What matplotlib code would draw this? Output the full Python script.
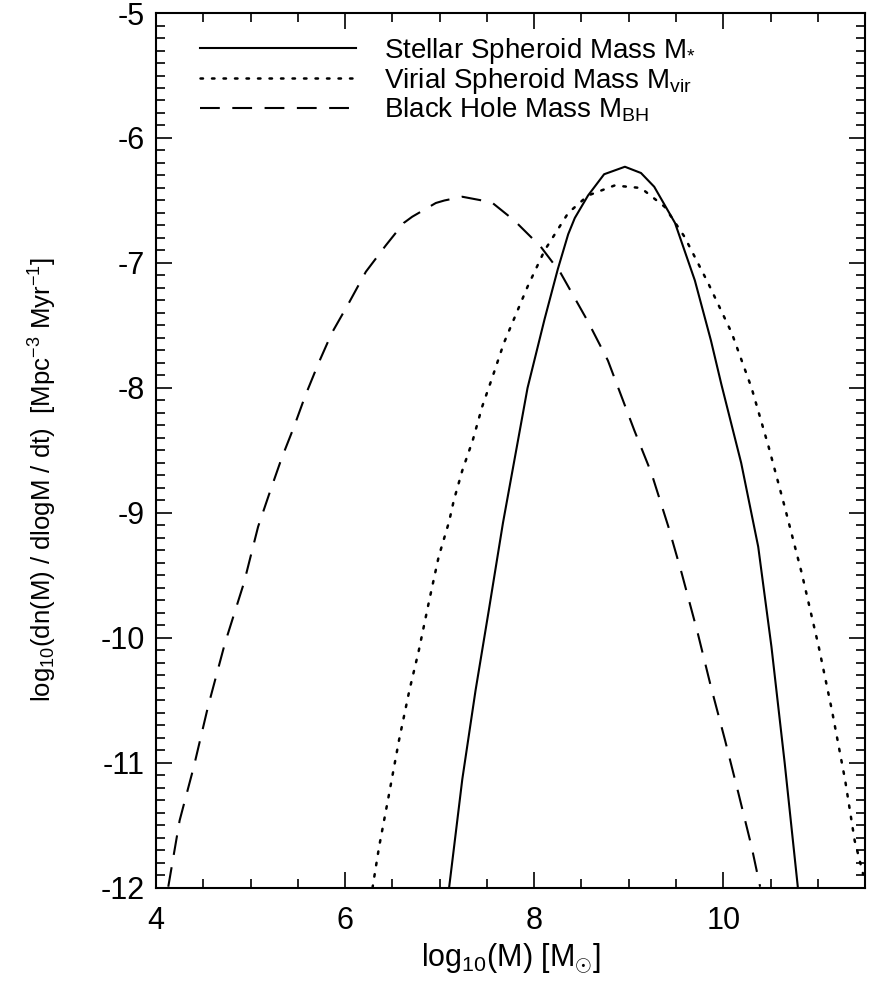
import matplotlib
matplotlib.use("Agg")
import matplotlib.pyplot as plt
from matplotlib.ticker import MultipleLocator

plt.rcParams['font.family'] = ['Liberation Sans', 'DejaVu Sans']
plt.rcParams['mathtext.fontset'] = 'custom'
plt.rcParams['mathtext.rm'] = 'Liberation Sans'
plt.rcParams['mathtext.it'] = 'Liberation Sans'
plt.rcParams['mathtext.bf'] = 'Liberation Sans:bold'
plt.rcParams['axes.unicode_minus'] = False

# ---- data ----
stellar_x = [7.10, 7.24, 7.38, 7.52, 7.67, 7.93, 8.11, 8.25, 8.36, 8.43, 8.57, 8.74, 8.96,
             9.13, 9.27, 9.49, 9.70, 9.87, 9.98, 10.19, 10.37, 10.51, 10.65, 10.79]
stellar_y = [-12.0, -11.13, -10.42, -9.78, -9.08, -8.00, -7.45, -7.05, -6.77, -6.64, -6.46, -6.29, -6.23,
             -6.28, -6.39, -6.68, -7.14, -7.62, -7.97, -8.60, -9.27, -10.07, -11.00, -12.0]

virial_x = [6.29, 6.36, 6.46, 6.57, 6.68, 6.78, 6.89, 6.99, 7.10, 7.15, 7.24, 7.35,
            7.45, 7.56, 7.68, 7.93, 8.11, 8.36, 8.57, 8.85, 9.13, 9.38, 9.59, 9.84,
            10.09, 10.30, 10.48, 10.65, 10.83, 11.01, 11.15, 11.29, 11.39, 11.48]
virial_y = [-12.0, -11.67, -11.27, -10.82, -10.42, -10.10, -9.70, -9.35, -9.07, -8.90, -8.66, -8.42,
            -8.15, -7.91, -7.64, -7.19, -6.90, -6.60, -6.46, -6.38, -6.40, -6.55, -6.79, -7.16,
            -7.56, -8.00, -8.47, -8.95, -9.48, -10.07, -10.58, -11.14, -11.62, -11.89]

bh_x = [4.13, 4.25, 4.40, 4.55, 4.73, 4.93, 5.08, 5.21, 5.33, 5.46, 5.58, 5.72, 5.86,
        6.04, 6.22, 6.43, 6.62, 6.71, 6.96, 7.05, 7.24, 7.45, 7.56, 7.79, 8.07, 8.28,
        8.57, 8.78, 8.89, 9.06, 9.24, 9.42, 9.56, 9.73, 9.87, 10.02, 10.16, 10.30, 10.39]
bh_y = [-11.99, -11.46, -11.03, -10.55, -10.04, -9.56, -9.11, -8.82, -8.56, -8.31, -8.06, -7.80, -7.56,
        -7.32, -7.07, -6.86, -6.68, -6.63, -6.52, -6.50, -6.47, -6.50, -6.52, -6.66, -6.87, -7.08,
        -7.47, -7.78, -8.00, -8.34, -8.68, -9.11, -9.48, -9.96, -10.39, -10.82, -11.24, -11.67, -11.99]

labels = [r'Stellar Spheroid Mass M$_{*}$',
          r'Virial Spheroid Mass M$_{\rm vir}$',
          r'Black Hole Mass M$_{\rm BH}$']

x_ticks = [4, 6, 8, 10]
y_ticks = [-12, -11, -10, -9, -8, -7, -6, -5]

fig = plt.figure(figsize=(8.7, 9.85), dpi=100)
ax = fig.add_axes([0.1793, 0.0985, 0.815, 0.8883])

lw = 1.5
ax.plot(stellar_x, stellar_y, color='black', lw=lw, ls='-', label=labels[0])
ax.plot(virial_x, virial_y, color='black', lw=1.8, ls=(0, (1, 3.6)),
        dash_capstyle='round', label=labels[1])
ax.plot(bh_x, bh_y, color='black', lw=lw, ls=(0, (9.5, 6)), label=labels[2])

ax.set_xlim(4, 11.5)
ax.set_ylim(-12, -5)
ax.set_xticks(x_ticks)
ax.set_yticks(y_ticks)
ax.set_xticklabels([str(v) for v in x_ticks])
ax.set_yticklabels([str(v) for v in y_ticks])
ax.xaxis.set_minor_locator(MultipleLocator(0.5))
ax.yaxis.set_minor_locator(MultipleLocator(0.1))

ax.tick_params(which='both', direction='in', top=True, right=True, width=1.2, color='black')
ax.tick_params(which='major', length=11.5)
ax.tick_params(which='minor', length=6.5)
ax.tick_params(axis='x', which='major', labelsize=22, pad=13)
ax.tick_params(axis='y', which='major', labelsize=22, pad=8)
for s in ax.spines.values():
    s.set_linewidth(1.5)

ax.set_xlabel(r'log$_{10}$(M) [M$_{\odot}$]', fontsize=22, labelpad=4)
ax.set_ylabel(r'log$_{10}$(dn(M) / dlogM / dt)  [Mpc$^{-3}$ Myr$^{-1}$]', fontsize=18.5)
ax.yaxis.set_label_coords(-0.137, 0.467)

leg = ax.legend(loc='upper left', bbox_to_anchor=(0.035, 0.996), frameon=False, fontsize=20,
                handlelength=5.6, handletextpad=1.0, labelspacing=0.0, borderaxespad=0.3)

fig.savefig('out.png', dpi=100)
